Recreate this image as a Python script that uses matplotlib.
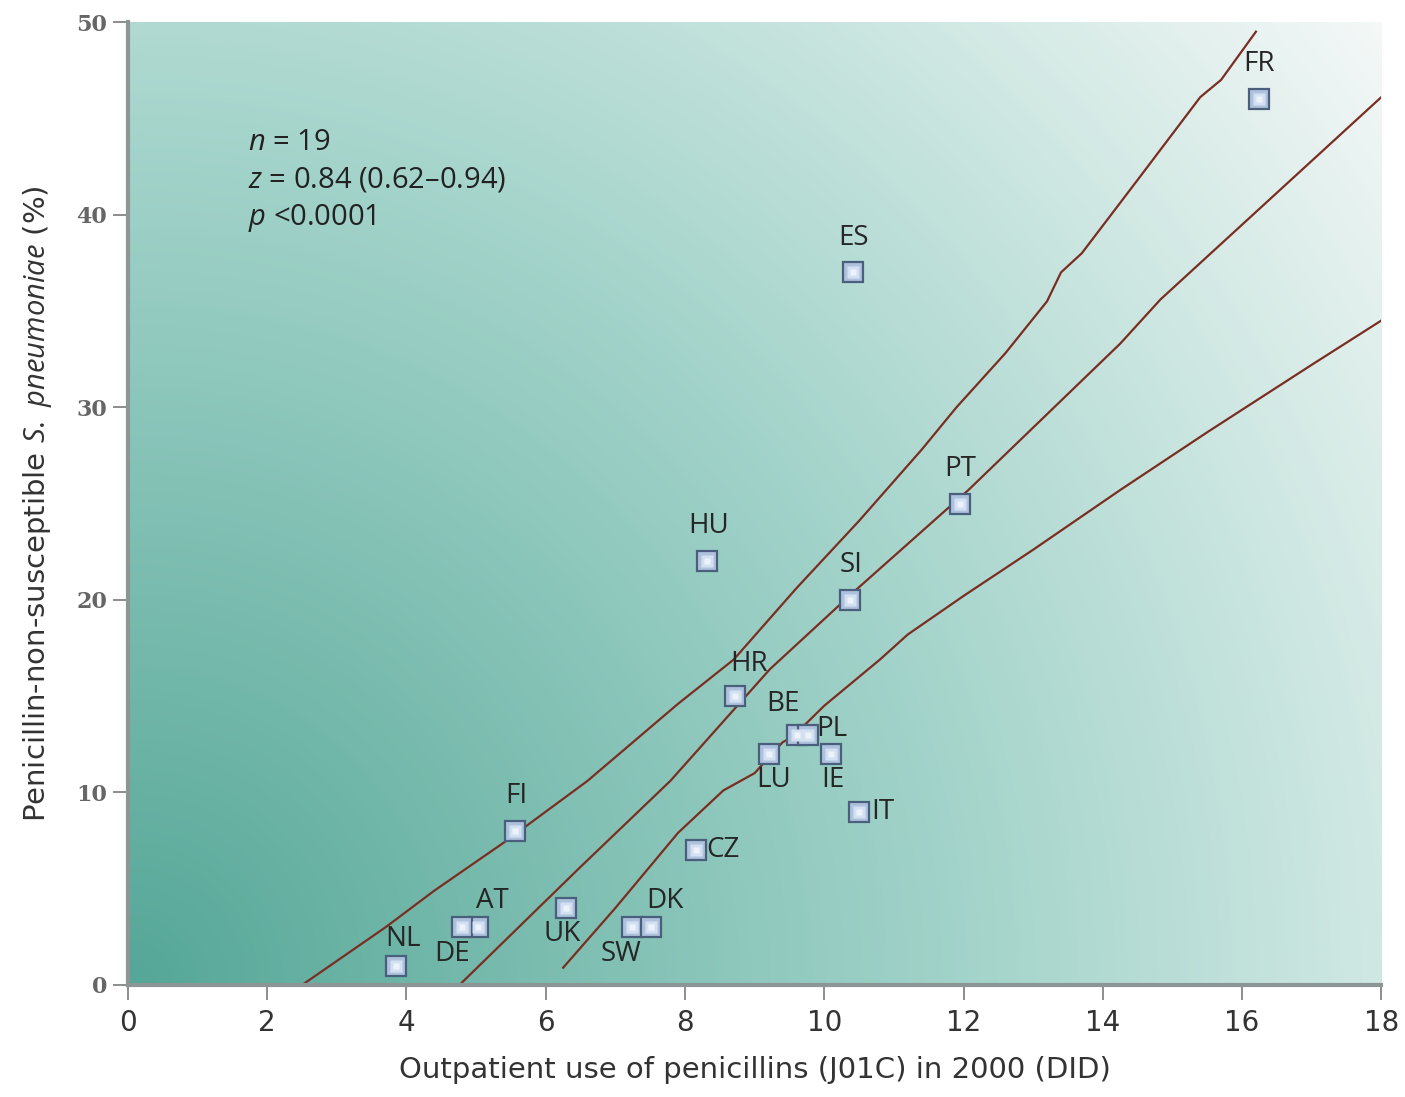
import numpy as np
import matplotlib
matplotlib.use("Agg")
import matplotlib.pyplot as plt
from matplotlib.colors import LinearSegmentedColormap

# country data: outpatient penicillin use (DID) vs % non-susceptible
countries = ["FR", "ES", "PT", "HU", "SI", "HR", "BE", "PL", "LU", "IE",
             "IT", "FI", "CZ", "UK", "SW", "DK", "AT", "DE", "NL"]
use_did = [16.25, 10.42, 11.95, 8.32, 10.37, 8.72, 9.61, 9.76, 9.21, 10.1,
           10.5, 5.56, 8.16, 6.29, 7.24, 7.51, 5.03, 4.80, 3.85]
resist_pct = [46, 37, 25, 22, 20, 15, 13, 13, 12, 12,
              9, 8, 7, 4, 3, 3, 3, 3, 1]

# regression line and confidence bands
fit_x = [4.76, 6.49, 7.79, 9.22, 10.42, 12.07, 14.25, 14.83, 18.0]
fit_y = [0.0, 6.1, 10.6, 16.4, 20.4, 25.7, 33.3, 35.6, 46.1]
upper_x = [2.5, 3.7, 4.4, 5.4, 6.6, 7.9, 8.7, 9.6, 10.5, 11.4, 11.9, 12.6,
           13.2, 13.4, 13.7, 14.5, 15.4, 15.7, 16.2]
upper_y = [0.0, 3.0, 4.9, 7.4, 10.6, 14.6, 16.9, 20.6, 24.1, 27.8, 30.0, 32.8,
           35.5, 37.0, 38.0, 41.8, 46.1, 47.0, 49.5]
lower_x = [6.25, 7.0, 7.9, 8.55, 9.0, 9.4, 9.55, 10.0, 10.8, 11.2, 12.0, 13.0,
           14.25, 15.5, 17.0, 18.0]
lower_y = [0.9, 4.0, 7.9, 10.1, 11.0, 12.6, 12.9, 14.5, 16.9, 18.2, 20.2, 22.6,
           25.7, 28.7, 32.2, 34.5]

# label placement (offset in points, alignment)
label_pos = {
    "FR": (0, 15, "center", "bottom"), "ES": (0, 15, "center", "bottom"),
    "PT": (0, 15, "center", "bottom"), "HU": (1, 15, "center", "bottom"),
    "SI": (1, 15, "center", "bottom"), "HR": (10, 13, "center", "bottom"),
    "BE": (-10, 12, "center", "bottom"), "PL": (6, 4, "left", "center"),
    "LU": (3, -9, "center", "top"), "IE": (1, -9, "center", "top"),
    "IT": (9, 0, "left", "center"), "FI": (1, 15, "center", "bottom"),
    "CZ": (7, 0, "left", "center"), "UK": (-3, -9, "center", "top"),
    "SW": (-8, -9, "center", "top"), "DK": (10, 9, "center", "bottom"),
    "AT": (10, 9, "center", "bottom"), "DE": (-7, -9, "center", "top"),
    "NL": (5, 9, "center", "bottom"),
}

plt.rcParams["mathtext.fontset"] = "custom"
plt.rcParams["mathtext.rm"] = "Open Sans"
plt.rcParams["mathtext.it"] = "Open Sans:italic"

fig = plt.figure(figsize=(14.05, 10.97), dpi=100)
ax = fig.add_axes([0.0911, 0.1021, 0.8920, 0.8778])

# radial background gradient from bottom-left corner
gx, gy = np.meshgrid(np.linspace(0, 1, 400), np.linspace(0, 1, 300))
dist = np.sqrt((gx * 1253) ** 2 + (gy * 963) ** 2) / np.hypot(1253, 963)
cmap = LinearSegmentedColormap.from_list(
    "bg", [(0.0, "#55a797"), (0.55, "#a6d5cc"), (1.0, "#f4f8f7")])
ax.imshow(dist, cmap=cmap, origin="lower", extent=[0, 18, 0, 50],
          aspect="auto", zorder=0, interpolation="bilinear")

line_color = "#7a2e22"
ax.plot(fit_x, fit_y, color=line_color, lw=1.6, zorder=2)
ax.plot(upper_x, upper_y, color=line_color, lw=1.6, zorder=2)
ax.plot(lower_x, lower_y, color=line_color, lw=1.6, zorder=2)

ax.plot(use_did, resist_pct, ls="none", marker="s", ms=14, mfc="#aec2de",
        mec="#4a5f7c", mew=1.6, zorder=3)
ax.plot(use_did, resist_pct, ls="none", marker="s", ms=9, mfc="#d3e0f2",
        mec="none", zorder=4)
ax.plot(use_did, resist_pct, ls="none", marker="s", ms=4, mfc="#eef3fb",
        mec="none", zorder=4)

for name, xv, yv in zip(countries, use_did, resist_pct):
    dx, dy, ha, va = label_pos[name]
    ax.annotate(name, (xv, yv), xytext=(dx, dy), textcoords="offset points",
                ha=ha, va=va, fontsize=20, family="Open Sans", color="#262626",
                zorder=5)

stats = ["$n$ = 19", "$z$ = 0.84 (0.62\u20130.94)", "$p$ <0.0001"]
for i, s in enumerate(stats):
    ax.text(0.0955, 0.875 - i * 0.0395, s, transform=ax.transAxes,
            fontsize=21, family="Open Sans", color="#222222", va="center")

ax.set_xlim(0, 18)
ax.set_ylim(0, 50)
ax.set_xticks(range(0, 19, 2))
ax.set_yticks(range(0, 51, 10))

for side in ["top", "right"]:
    ax.spines[side].set_visible(False)
for side in ["left", "bottom"]:
    ax.spines[side].set_color("#8c9694")
    ax.spines[side].set_linewidth(3)

ax.tick_params(axis="both", direction="out", length=11, width=1.2,
               color="#7a7a7a")
ax.tick_params(axis="x", pad=6)
ax.tick_params(axis="y", pad=4)
for lab in ax.get_xticklabels():
    lab.set_family("DejaVu Sans")
    lab.set_fontsize(20)
    lab.set_color("#333333")
for lab in ax.get_yticklabels():
    lab.set_family("DejaVu Serif")
    lab.set_fontweight("bold")
    lab.set_fontsize(16)
    lab.set_color("#666666")

ax.set_xlabel("Outpatient use of penicillins (J01C) in 2000 (DID)",
              fontsize=21, family="DejaVu Sans", color="#333333", labelpad=14)
ax.set_ylabel("Penicillin-non-susceptible $S.$ $pneumoniae$ (%)",
              fontsize=21, family="DejaVu Sans", color="#333333", labelpad=16)

fig.savefig("out.png", dpi=100)
